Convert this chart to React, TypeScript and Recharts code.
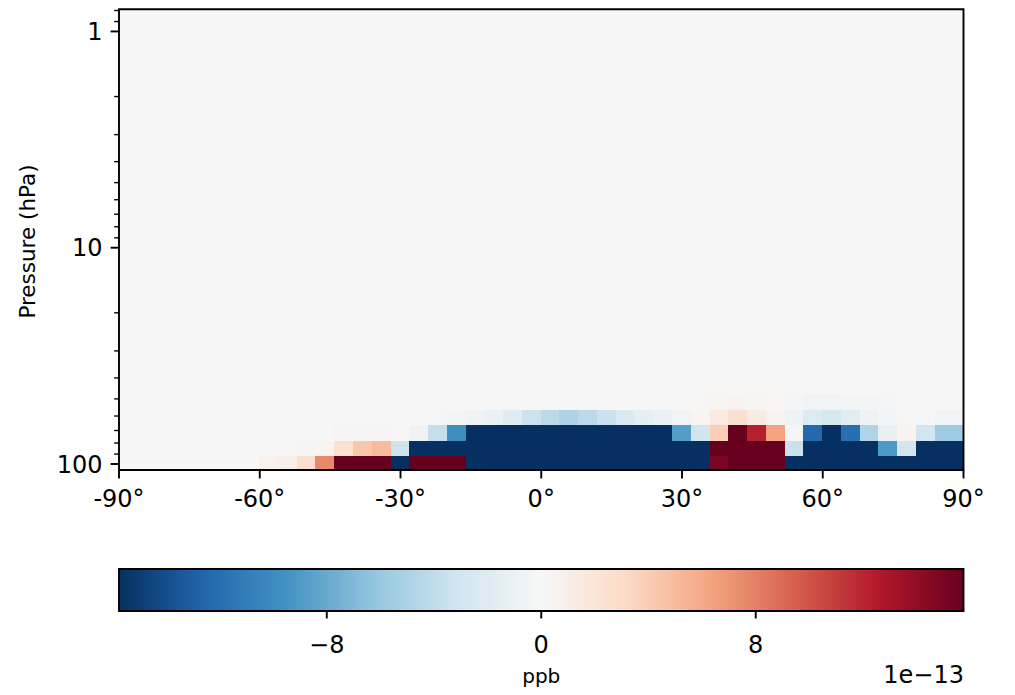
import { ComposedChart, XAxis, YAxis, ReferenceArea, Label, Scatter } from "recharts";

const FONT = '"DejaVu Sans", sans-serif';

// latitude cell edges (deg), 4° grid with half cells at the poles
const LAT_EDGES = [
  -90, -88, -84, -80, -76, -72, -68, -64, -60, -56, -52, -48, -44, -40, -36, -32,
  -28, -24, -20, -16, -12, -8, -4, 0, 4, 8, 12, 16, 20, 24, 28, 32,
  36, 40, 44, 48, 52, 56, 60, 64, 68, 72, 76, 80, 84, 88, 90,
];
// pressure cell edges (hPa), from the surface-most row upward
const P_EDGES = [
  106.6, 91.7, 77.6, 65.9, 55.8, 47.1, 40.0, 33.5, 28.2, 23.6, 19.8, 16.6, 13.7, 11.2,
  9.26, 7.71, 6.39, 5.36, 4.48, 3.73, 3.12, 2.6, 2.17, 1.81, 1.51, 1.26, 1.05, 0.88, 0.79,
];

const LAT_TICKS = [-90, -60, -30, 0, 30, 60, 90];
const P_TICKS = [0.8, 0.9, 1, 2, 3, 4, 5, 6, 7, 8, 9, 10, 20, 30, 40, 50, 60, 70, 80, 90, 100];
const P_MAJOR = [1, 10, 100];
const CBAR_TICKS = [-8, 0, 8];

// values in units of 1e-13 ppb, one array per model level (46 lat cells)
const lev99 = [
  0, 0, 0, 0, 0, 0, 0, 0, 0.6, 1.0, 2.7, 7.6, 20, 20, 20, -20,
  20, 20, 20, -20, -20, -20, -20, -20, -20, -20, -20, -20, -20, -20, -20, -20,
  15.0, 20, 20, 20, -20, -20, -20, -20, -20, -20, -20, -20, -20, -20,
];
const lev84 = [
  0, 0, 0, 0, 0, 0, 0, 0, 0, 0, 0.2, 0.5, 2.5, 4.3, 5.0, -3.2,
  -20, -20, -20, -20, -20, -20, -20, -20, -20, -20, -20, -20, -20, -20, -20, -20,
  20, 20, 20, 20, -3.5, -20, -20, -20, -20, -9.0, -3.0, -20, -20, -20,
];
const lev72 = [
  0, 0, 0, 0, 0, 0, 0, 0, 0, 0, 0, 0, 0.2, 0.2, 0.2, 0.1,
  -0.7, -3.8, -9.8, -20, -20, -20, -20, -20, -20, -20, -20, -20, -20, -20, -8.8, -3.15,
  3.9, 16, 12.3, 6.4, -0.3, -12.4, -16, -12, -4.8, -1.2, 0.5, -3.1, -5.7, -5.7,
];
const lev61 = [
  0, 0, 0, 0, 0, 0, 0, 0, 0, 0, 0, 0, 0, 0, 0, 0,
  0, -0.2, -0.4, -0.7, -1.1, -2.0, -3.4, -4.3, -4.9, -4.3, -3.5, -2.3, -1.6, -1.1, -0.5, 0.3,
  1.5, 2.6, 1.3, 0.5, -0.8, -2.2, -2.7, -1.8, -0.8, -0.4, 0.1, -0.2, -0.6, -0.6,
];
const lev51 = [
  0, 0, 0, 0, 0, 0, 0, 0, 0, 0, 0, 0, 0, 0, 0, 0,
  0, -0.1, -0.1, -0.1, -0.1, -0.1, -0.1, -0.1, -0.1, -0.1, -0.1, -0.1, -0.1, -0.1, -0.1, 0.1,
  0.3, 0.4, 0.3, 0.1, -0.3, -0.5, -0.5, -0.4, -0.4, -0.3, 0, 0, 0, 0,
];
const lev43 = [
  0, 0, 0, 0, 0, 0, 0, 0, 0, 0, 0, 0, 0, 0, 0, 0,
  -0.1, -0.1, -0.1, -0.1, -0.1, -0.1, -0.1, -0.1, -0.1, -0.1, -0.1, -0.1, -0.1, -0.1, -0.1, -0.1,
  0.1, 0.1, 0.1, 0.1, -0.1, -0.1, -0.1, -0.1, -0.1, -0.1, -0.1, -0.1, -0.1, -0.1,
];
const lev37 = [
  0, 0, 0, 0, 0, 0, 0, 0, 0, 0, 0, 0, 0, 0, 0, 0,
  -0.1, -0.1, -0.1, -0.1, -0.1, -0.1, -0.1, -0.1, -0.1, -0.1, -0.1, -0.1, -0.1, -0.1, -0.1, -0.1,
  -0.1, -0.1, -0.1, -0.1, -0.1, -0.1, -0.1, -0.1, -0.1, -0.1, -0.1, -0.1, -0.1, -0.1,
];
const lev31 = [
  0, 0, 0, 0, 0, 0, 0, 0, 0, 0, 0, 0, 0, 0, 0, 0,
  0, 0, 0, 0, -0.1, -0.1, -0.1, -0.1, -0.1, -0.1, -0.1, -0.1, -0.1, -0.1, -0.1, -0.1,
  -0.1, -0.1, -0.1, -0.1, -0.1, -0.1, -0.1, -0.1, -0.1, -0.1, -0.1, -0.1, -0.1, 0,
];
const lev26 = [
  0, 0, 0, 0, 0, 0, 0, 0, 0, 0, 0, 0, 0, 0, 0, 0,
  0, 0, 0, 0, 0, 0, 0, 0, 0, 0, 0, 0, 0, 0, 0, -0.1,
  -0.1, -0.1, -0.1, -0.1, -0.1, -0.1, -0.1, -0.1, -0.1, -0.1, -0.1, -0.1, 0, 0,
];
const lev22 = [
  0, 0, 0, 0, 0, 0, 0, 0, 0, 0, 0, 0, 0, 0, 0, 0,
  0, 0, 0, 0, 0, 0, 0, 0, 0, 0, 0, 0, 0, 0, 0, -0.1,
  -0.1, -0.1, -0.1, -0.1, -0.1, -0.1, -0.1, -0.1, -0.1, -0.1, -0.1, -0.1, 0, 0,
];
const lev18 = [
  0, 0, 0, 0, 0, 0, 0, 0, 0, 0, 0, 0, 0, 0, 0, 0,
  0, 0, 0, 0, 0, 0, 0, 0, 0, 0, 0, 0, 0, 0, 0, -0.1,
  -0.1, -0.1, -0.1, -0.1, -0.1, -0.1, -0.1, -0.1, -0.1, -0.1, -0.1, 0, 0, 0,
];
const lev15 = [
  0, 0, 0, 0, 0, 0, 0, 0, 0, 0, 0, 0, 0, 0, 0, 0,
  0, 0, 0, 0, 0, 0, 0, 0, 0, 0, 0, 0, 0, 0, 0, 0,
  -0.1, -0.1, -0.1, -0.1, -0.1, -0.1, -0.1, -0.1, -0.1, -0.1, 0, 0, 0, 0,
];
const lev12 = [
  0, 0, 0, 0, 0, 0, 0, 0, 0, 0, 0, 0, 0, 0, 0, 0,
  0, 0, 0, 0, 0, 0, 0, 0, 0, 0, 0, 0, 0, 0, 0, 0,
  0, -0.1, -0.1, -0.1, -0.1, -0.1, -0.1, -0.1, -0.1, -0.1, 0, 0, 0, 0,
];
const lev10 = [
  0, 0, 0, 0, 0, 0, 0, 0, 0, 0, 0, 0, 0, 0, 0, 0,
  0, 0, 0, 0, 0, 0, 0, 0, 0, 0, 0, 0, 0, 0, 0, 0,
  0, 0, -0.1, -0.1, -0.1, -0.1, -0.1, -0.1, -0.1, 0, 0, 0, 0, 0,
];
const lev8 = [
  0, 0, 0, 0, 0, 0, 0, 0, 0, 0, 0, 0, 0, 0, 0, 0,
  0, 0, 0, 0, 0, 0, 0, 0, 0, 0, 0, 0, 0, 0, 0, 0,
  0, 0, 0, -0.1, -0.1, -0.1, 0, 0, 0, 0, 0, 0, 0, 0,
];
// upper levels: no visible signal
const levUpper = [
  0, 0, 0, 0, 0, 0, 0, 0, 0, 0, 0, 0, 0, 0, 0, 0,
  0, 0, 0, 0, 0, 0, 0, 0, 0, 0, 0, 0, 0, 0, 0, 0,
  0, 0, 0, 0, 0, 0, 0, 0, 0, 0, 0, 0, 0, 0,
];

const ROWS = [
  lev99, lev84, lev72, lev61, lev51, lev43, lev37, lev31, lev26, lev22, lev18, lev15, lev12, lev10, lev8,
  levUpper, levUpper, levUpper, levUpper, levUpper, levUpper, levUpper, levUpper, levUpper, levUpper,
  levUpper, levUpper, levUpper,
];

const V_LIM = 15.75; // colour limits, 1e-13 ppb
const RDBU_R = [
  "#053061", "#2166ac", "#4393c3", "#92c5de", "#d1e5f0", "#f7f7f7",
  "#fddbc7", "#f4a582", "#d6604d", "#b2182b", "#67001f",
];

function hexRgb(h: string) {
  return [1, 3, 5].map((i) => parseInt(h.slice(i, i + 2), 16));
}

function cmap(v: number) {
  const t = Math.min(1, Math.max(0, (v + V_LIM) / (2 * V_LIM)));
  const s = t * (RDBU_R.length - 1);
  const i = Math.min(RDBU_R.length - 2, Math.floor(s));
  const f = s - i;
  const a = hexRgb(RDBU_R[i]);
  const b = hexRgb(RDBU_R[i + 1]);
  const c = a.map((x, k) => Math.round(x + (b[k] - x) * f));
  return `rgb(${c[0]},${c[1]},${c[2]})`;
}

const cells = ROWS.flatMap((row, r) =>
  row.map((v, c) => ({
    key: `${r}-${c}`,
    x1: LAT_EDGES[c],
    x2: LAT_EDGES[c + 1],
    y1: P_EDGES[r],
    y2: P_EDGES[r + 1],
    lat: (LAT_EDGES[c] + LAT_EDGES[c + 1]) / 2,
    p: Math.sqrt(P_EDGES[r] * P_EDGES[r + 1]),
    color: cmap(v),
  }))
);

const cbarStops = RDBU_R.map((c, i) => ({
  v: -V_LIM + (2 * V_LIM * i) / (RDBU_R.length - 1),
  y: 0.5,
  color: c,
}));

const Nothing = () => <g />;

function PressureTick(props: any) {
  const { x, y, payload } = props;
  const major = P_MAJOR.includes(payload.value);
  const len = major ? 8.4 : 4.8;
  return (
    <g>
      <line x1={x - len} x2={x} y1={y} y2={y} stroke="#000" strokeWidth={major ? 1.9 : 1.4} />
      {major && (
        <text x={x - len - 8} y={y} dy="0.36em" textAnchor="end" fontSize={24} fill="#000" fontFamily={FONT}>
          {payload.value}
        </text>
      )}
    </g>
  );
}

function YTitle() {
  return (
    <text x={35} y={241.5} transform="rotate(-90, 35, 241.5)" textAnchor="middle" fontSize={21.5} fill="#000" fontFamily={FONT}>
      Pressure (hPa)
    </text>
  );
}

function CbarTexts(props: any) {
  const vb = props.viewBox && props.viewBox.width ? props.viewBox : { x: 119, width: 844.5 };
  return (
    <g>
      <text x={vb.x + vb.width / 2} y={123.3} textAnchor="middle" fontSize={20} fill="#000" fontFamily={FONT}>
        ppb
      </text>
      <text x={vb.x + vb.width + 0.5} y={123.3} textAnchor="end" fontSize={24} fill="#000" fontFamily={FONT}>
        1e−13
      </text>
    </g>
  );
}

const minus = (v: number) => (v < 0 ? `\u2212${Math.abs(v)}` : `${v}`);

export default function App() {
  return (
    <div style={{ position: "absolute", left: 0, top: 0, width: 1015, height: 695, background: "#fff" }}>
      <div style={{ position: "absolute", left: 0, top: 0 }}>
        <ComposedChart width={1015} height={530} data={cells} margin={{ top: 9.3, right: 51.5, bottom: 20, left: 19 }}>
          <XAxis
            type="number"
            dataKey="lat"
            domain={[-90, 90]}
            ticks={LAT_TICKS}
            interval={0}
            allowDataOverflow
            tickFormatter={(v) => `${v}°`}
            height={40}
            axisLine={false}
            tickSize={8.4}
            tickMargin={12}
            tickLine={{ stroke: "#000", strokeWidth: 1.9 }}
            tick={{ fill: "#000", fontSize: 24, fontFamily: FONT }}
          />
          <YAxis
            type="number"
            dataKey="p"
            scale="log"
            domain={[P_EDGES[P_EDGES.length - 1], P_EDGES[0]]}
            reversed
            allowDataOverflow
            ticks={P_TICKS}
            interval={0}
            width={100}
            axisLine={false}
            tickLine={false}
            tickSize={0}
            tickMargin={0}
            tick={<PressureTick />}
          >
            <Label content={<YTitle />} />
          </YAxis>
          <Scatter dataKey="p" shape={<Nothing />} isAnimationActive={false} legendType="none" />
          {cells.map((c) => (
            <ReferenceArea
              key={c.key}
              x1={c.x1}
              x2={c.x2}
              y1={c.y1}
              y2={c.y2}
              fill={c.color}
              fillOpacity={1}
              stroke={c.color}
              strokeWidth={1.2}
              shapeRendering="crispEdges"
              ifOverflow="visible"
            />
          ))}
          <ReferenceArea
            x1={-90}
            x2={90}
            y1={P_EDGES[P_EDGES.length - 1]}
            y2={P_EDGES[0]}
            fill="none"
            stroke="#000"
            strokeWidth={1.9}
            ifOverflow="visible"
          />
        </ComposedChart>
      </div>
      <div style={{ position: "absolute", left: 0, top: 560 }}>
        <ComposedChart width={1015} height={135} data={cbarStops} margin={{ top: 9, right: 51.5, bottom: 0, left: 119 }}>
          <defs>
            <linearGradient id="rdbu" x1="0" x2="1" y1="0" y2="0">
              {cbarStops.map((s, i) => (
                <stop key={i} offset={`${(i / (cbarStops.length - 1)) * 100}%`} stopColor={s.color} />
              ))}
            </linearGradient>
          </defs>
          <XAxis
            type="number"
            dataKey="v"
            domain={[-V_LIM, V_LIM]}
            ticks={CBAR_TICKS}
            interval={0}
            allowDataOverflow
            tickFormatter={minus}
            height={84}
            axisLine={false}
            tickSize={7.5}
            tickMargin={17}
            tickLine={{ stroke: "#000", strokeWidth: 1.9 }}
            tick={{ fill: "#000", fontSize: 24, fontFamily: FONT }}
          >
            <Label content={<CbarTexts />} />
          </XAxis>
          <YAxis hide type="number" dataKey="y" domain={[0, 1]} />
          <Scatter dataKey="y" shape={<Nothing />} isAnimationActive={false} legendType="none" />
          <ReferenceArea
            x1={-V_LIM}
            x2={V_LIM}
            y1={0}
            y2={1}
            fill="url(#rdbu)"
            fillOpacity={1}
            stroke="#000"
            strokeWidth={1.9}
            ifOverflow="visible"
          />
        </ComposedChart>
      </div>
    </div>
  );
}
